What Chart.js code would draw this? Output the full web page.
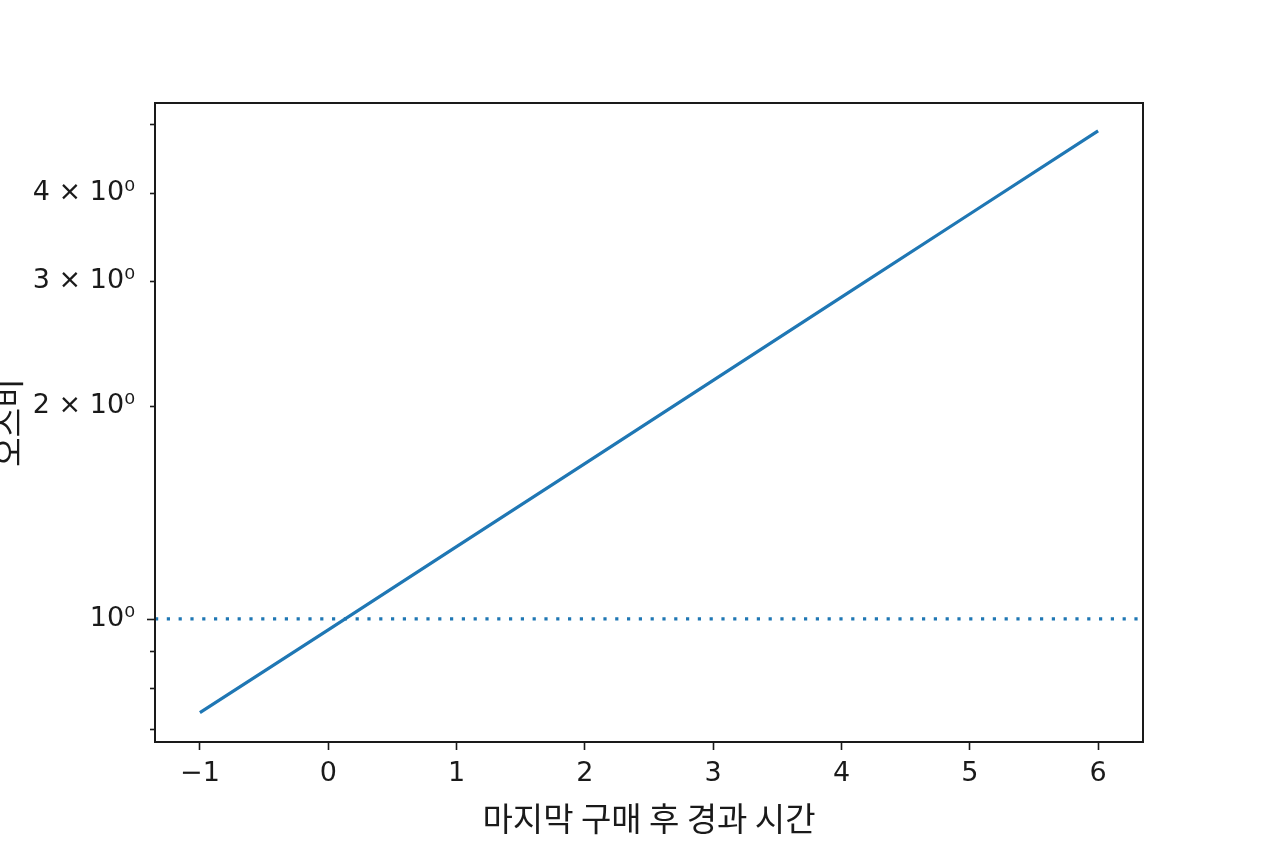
<!DOCTYPE html>
<html>
<head>
<meta charset="utf-8">
<script src="https://cdn.jsdelivr.net/npm/chart.js@4"></script>
<style>
  html, body { margin: 0; padding: 0; background: #fff; }
  #wrap { width: 1264px; height: 848px; }
</style>
</head>
<body>
<div id="wrap"><canvas id="oddsChart"></canvas></div>
<script>
// 마지막 구매 후 경과 시간 (x) 과 오즈비 (y)
const elapsed = [-1, 0, 1, 2, 3, 4, 5, 6];
const oddsRatio = [0.737, 0.965, 1.265, 1.658, 2.174, 2.850, 3.735, 4.895];

// 기준선 (오즈비 = 1)
const refLevel = 1;
const xRange = [-1.35, 6.35];
const yRange = [0.67, 5.36];

const xTickValues = [-1, 0, 1, 2, 3, 4, 5, 6];
const yMajorTicks = [1];
const yMinorTicks = [0.7, 0.8, 0.9, 2, 3, 4, 5];
const yTickLabels = { 1: '10\u2070', 2: '2 \u00d7 10\u2070', 3: '3 \u00d7 10\u2070', 4: '4 \u00d7 10\u2070' };

const blue = '#1f77b4';
const ink = '#1a1a1a';

// 축 테두리와 y축 눈금
const framePlugin = {
  id: 'frame',
  afterDraw(chart) {
    const { ctx, chartArea: a } = chart;
    const y = chart.scales.y;
    ctx.save();
    ctx.strokeStyle = ink;
    ctx.lineWidth = 2;
    ctx.strokeRect(a.left, a.top, a.right - a.left, a.bottom - a.top);
    ctx.lineWidth = 1.6;
    const tick = (v, len) => {
      const py = Math.round(y.getPixelForValue(v)) + 0.5;
      ctx.beginPath();
      ctx.moveTo(a.left, py);
      ctx.lineTo(a.left - len, py);
      ctx.stroke();
    };
    yMajorTicks.forEach(v => tick(v, 8));
    yMinorTicks.forEach(v => tick(v, 5));
    ctx.restore();
  }
};

new Chart(document.getElementById('oddsChart'), {
  type: 'line',
  data: {
    datasets: [
      {
        data: elapsed.map((x, i) => ({ x: x, y: oddsRatio[i] })),
        borderColor: blue,
        borderWidth: 3.2,
        pointRadius: 0,
        tension: 0
      },
      {
        data: xRange.map(x => ({ x: x, y: refLevel })),
        borderColor: blue,
        borderWidth: 3.2,
        borderDash: [3.2, 8.6],
        pointRadius: 0
      }
    ]
  },
  options: {
    responsive: true,
    maintainAspectRatio: false,
    animation: false,
    layout: { padding: { top: 103, right: 121, left: 0, bottom: 0 } },
    plugins: { legend: { display: false }, tooltip: { enabled: false } },
    scales: {
      x: {
        type: 'linear',
        min: xRange[0],
        max: xRange[1],
        afterBuildTicks: s => { s.ticks = xTickValues.map(v => ({ value: v })); },
        afterFit: s => { s.height = 106; },
        grid: { drawOnChartArea: false, tickLength: 8, tickWidth: 1.6, tickColor: ink },
        border: { display: false },
        ticks: {
          color: ink,
          font: { family: 'DejaVu Sans', size: 27 },
          padding: 8,
          maxRotation: 0,
          callback: v => String(v).replace('-', '\u2212')
        },
        title: {
          display: true,
          text: '마지막 구매 후 경과 시간',
          color: ink,
          font: { family: 'Noto Sans CJK KR', size: 33, lineHeight: 1.2 },
          padding: { top: 0, bottom: 10 }
        }
      },
      y: {
        type: 'logarithmic',
        min: yRange[0],
        max: yRange[1],
        afterBuildTicks: s => { s.ticks = [...yMinorTicks, ...yMajorTicks].sort((a, b) => a - b).map(v => ({ value: v })); },
        afterFit: s => { s.width = 155; },
        grid: { display: false, drawTicks: false },
        border: { display: false },
        ticks: {
          color: ink,
          font: { family: 'DejaVu Sans', size: 27 },
          padding: 20,
          autoSkip: false,
          callback: v => yTickLabels[v] || ''
        },
        title: {
          display: true,
          text: '오즈비',
          color: ink,
          font: { family: 'Noto Sans CJK KR', size: 32, lineHeight: 1.2 },
          padding: { top: -11, bottom: 0 }
        }
      }
    }
  },
  plugins: [framePlugin]
});
</script>
</body>
</html>
